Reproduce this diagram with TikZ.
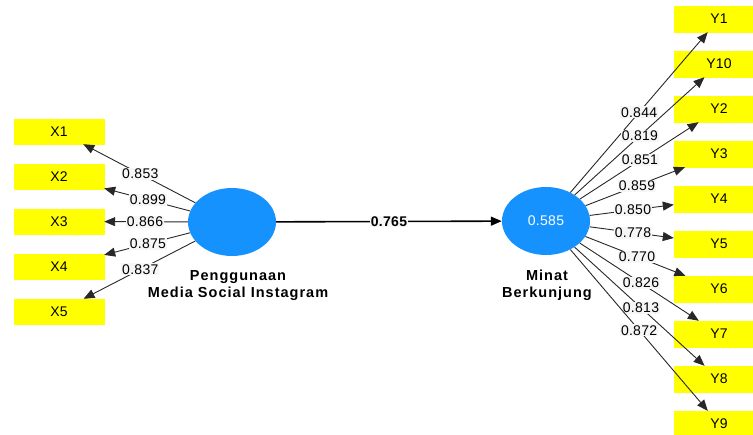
\documentclass[tikz,border=0pt]{standalone}
\usepackage{fontspec}
\usetikzlibrary{shapes.geometric,arrows.meta,calc}
\newfontfamily\numf[LetterSpace=2]{Liberation Sans}
\newfontfamily\latf[LetterSpace=7]{Liberation Sans}
\definecolor{boxyellow}{RGB}{255,255,0}
\definecolor{latblue}{RGB}{22,146,255}
\definecolor{linegray}{RGB}{40,40,40}
\definecolor{lblbg}{RGB}{246,246,246}
\begin{document}
\begin{tikzpicture}[x=1pt,y=-1pt,
  ind/.style={draw=boxyellow,fill=boxyellow,minimum width=90pt,minimum height=25pt,inner sep=0pt,font=\numf\fontsize{14}{16}\selectfont},
  lat/.style={ellipse,fill=latblue,minimum width=88pt,minimum height=68pt,inner sep=0pt,text=white,font=\numf\fontsize{14}{16}\selectfont},
  latname/.style={align=center,font=\latf\bfseries\fontsize{14.5}{17}\selectfont},
  load/.style={draw=linegray,line width=0.9pt,-{Triangle[length=11pt,width=9pt]}},
  lbl/.style={fill=lblbg,inner sep=1pt,font=\numf\fontsize{14}{16}\selectfont},
  path/.style={draw=black,line width=1.6pt,-{Triangle[length=11pt,width=9pt]}}]
\useasboundingbox (0,0) rectangle (753,435);
% latent variables
\node[lat] (L) at (232,222) {};
\node[lat] (R) at (546,221) {0.585};
\node[latname] (Lname) at (238,285.5) {Penggunaan\\Media Social Instagram};
\node[latname] (Rname) at (547,285.5) {Minat\\Berkunjung};
% indicators left
\node[ind] (X1) at (59,131.5) {X1};
\node[ind] (X2) at (59,176.5) {X2};
\node[ind] (X3) at (59,221.5) {X3};
\node[ind] (X4) at (59,266.5) {X4};
\node[ind] (X5) at (59,311.5) {X5};
% indicators right
\node[ind,minimum height=26pt] (Y1) at (719,19) {Y1};
\node[ind,minimum height=26pt] (Y10) at (719,64) {Y10};
\node[ind,minimum height=26pt] (Y2) at (719,109) {Y2};
\node[ind,minimum height=26pt] (Y3) at (719,154) {Y3};
\node[ind,minimum height=26pt] (Y4) at (719,199) {Y4};
\node[ind,minimum height=26pt] (Y5) at (719,244) {Y5};
\node[ind,minimum height=26pt] (Y6) at (719,289) {Y6};
\node[ind,minimum height=26pt] (Y7) at (719,334) {Y7};
\node[ind,minimum height=26pt] (Y8) at (719,379) {Y8};
\node[ind,minimum height=26pt] (Y9) at (719,424) {Y9};
% left loadings
\foreach \t/\tp/\v in {X1/0.53/0.853, X2/0.486/0.899, X3/0.503/0.866, X4/0.486/0.875, X5/0.53/0.837}{
  \draw[load] (L) -- (\t);
  \node[lbl] at ($(L.center)!\tp!(\t.center)$) {\v};
}
% right loadings
\foreach \t/\tp/\v in {Y1/0.538/0.844, Y10/0.543/0.819, Y2/0.543/0.851, Y3/0.526/0.859, Y4/0.503/0.850, Y5/0.503/0.778, Y6/0.526/0.770, Y7/0.549/0.826, Y8/0.549/0.813, Y9/0.538/0.872}{
  \draw[load] (R) -- (\t);
  \node[lbl] at ($(R.center)!\tp!(\t.center)$) {\v};
}
% structural path
\draw[path] (L) -- (R) node[midway,lbl,font=\numf\bfseries\fontsize{14}{16}\selectfont] {0.765};
\end{tikzpicture}
\end{document}
